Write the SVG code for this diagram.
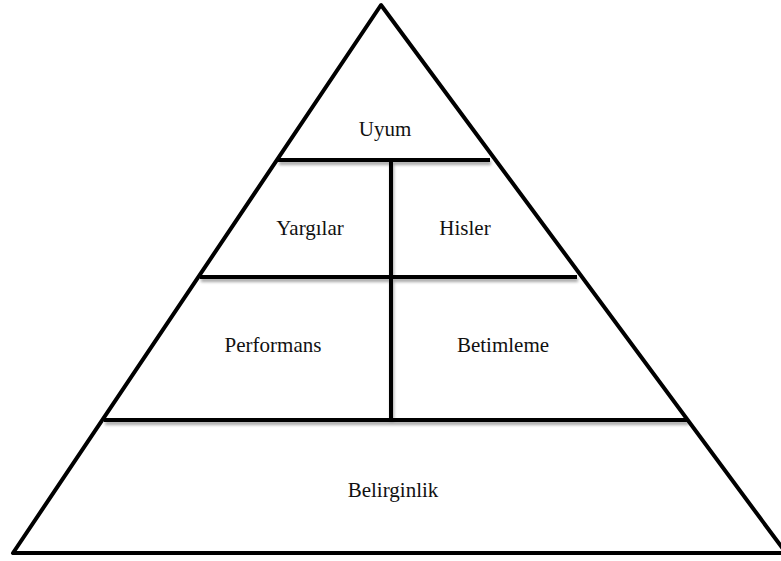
<svg xmlns="http://www.w3.org/2000/svg" width="781" height="561" viewBox="0 0 781 561">
<defs>
<style>
.edge{stroke:#000;stroke-width:4;fill:none;stroke-linecap:butt}
.lbl{font-family:"Liberation Serif","Times New Roman",serif;font-size:21px;fill:#111;text-anchor:middle}
</style>
<filter id="sh" x="-5%" y="-100%" width="110%" height="400%">
<feGaussianBlur in="SourceAlpha" stdDeviation="1.5"/>
<feOffset dx="1" dy="3" result="b"/>
<feComponentTransfer><feFuncA type="linear" slope="0.35"/></feComponentTransfer>
<feMerge><feMergeNode/><feMergeNode in="SourceGraphic"/></feMerge>
</filter>
</defs>
<rect width="781" height="561" fill="#fff"/>
<g id="connectors">
<path class="edge" d="M381,5 L13,553 L786,553 Z" stroke-linejoin="round"/>
<g filter="url(#sh)">
<line class="edge" x1="278" y1="160" x2="490" y2="160"/>
<line class="edge" x1="200" y1="277" x2="577" y2="277"/>
<line class="edge" x1="104" y1="420" x2="688" y2="420"/>
<line class="edge" x1="391" y1="160" x2="391" y2="420"/>
</g>
</g>
<g id="uyum"><text class="lbl" x="385" y="136">Uyum</text></g>
<g id="yargilar"><text class="lbl" x="310" y="235">Yargılar</text></g>
<g id="hisler"><text class="lbl" x="465" y="235">Hisler</text></g>
<g id="performans"><text class="lbl" x="273" y="352">Performans</text></g>
<g id="betimleme"><text class="lbl" x="503" y="352">Betimleme</text></g>
<g id="belirginlik"><text class="lbl" x="393" y="497">Belirginlik</text></g>
</svg>
